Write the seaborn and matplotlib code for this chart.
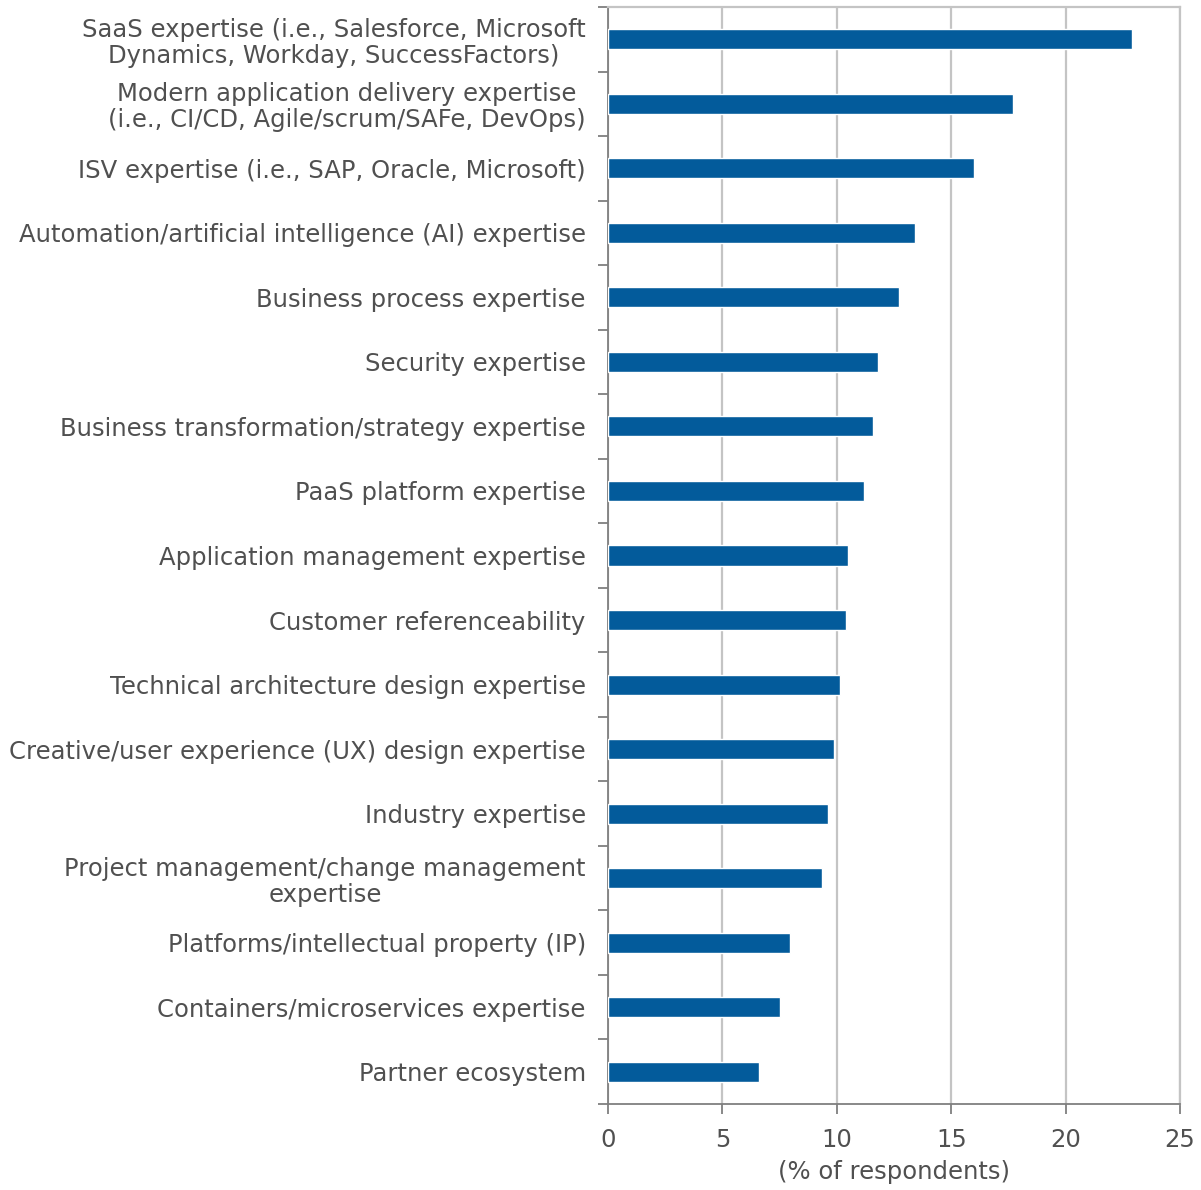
import matplotlib
matplotlib.use("Agg")
import matplotlib.pyplot as plt
from matplotlib.ticker import FixedLocator
import seaborn as sns
import pandas as pd
import numpy as np

categories = [
    "SaaS expertise (i.e., Salesforce, Microsoft\nDynamics, Workday, SuccessFactors)",
    "Modern application delivery expertise\n(i.e., CI/CD, Agile/scrum/SAFe, DevOps)",
    "ISV expertise (i.e., SAP, Oracle, Microsoft)",
    "Automation/artificial intelligence (AI) expertise",
    "Business process expertise",
    "Security expertise",
    "Business transformation/strategy expertise",
    "PaaS platform expertise",
    "Application management expertise",
    "Customer referenceability",
    "Technical architecture design expertise",
    "Creative/user experience (UX) design expertise",
    "Industry expertise",
    "Project management/change management\nexpertise",
    "Platforms/intellectual property (IP)",
    "Containers/microservices expertise",
    "Partner ecosystem",
]
values = [22.9, 17.7, 16.0, 13.4, 12.7, 11.8, 11.6, 11.2, 10.5, 10.4,
          10.15, 9.87, 9.6, 9.36, 7.95, 7.5, 6.6]
x_ticks = [0, 5, 10, 15, 20, 25]
x_label = "(% of respondents)"

df = pd.DataFrame({"category": categories, "value": values})

sns.set_style("white")
plt.rcParams["font.family"] = ["DejaVu Sans"]

text_color = "#505050"
bar_color = "#035b9b"
grid_color = "#c4c4c4"
spine_color = "#7f7f7f"
label_size = 17.5

fig = plt.figure(figsize=(12.01, 11.90), dpi=100)
ax = fig.add_axes([608 / 1201, 1 - 1104 / 1190, (1180 - 608) / 1201, (1104 - 7) / 1190])

sns.barplot(data=df, x="value", y="category", orient="h", color=bar_color,
            saturation=1, width=0.31, edgecolor="white", linewidth=1.0,
            ax=ax, zorder=3)

ax.set_xlim(0, 25)
ax.set_ylim(len(categories) - 0.5, -0.5)
ax.set_xticks(x_ticks)
ax.xaxis.grid(True, color=grid_color, linewidth=1.6, zorder=0)
ax.yaxis.grid(False)
ax.set_axisbelow(True)

# Category labels sit at bar centres; tick marks sit on the boundaries
ax.yaxis.set_minor_locator(FixedLocator(np.arange(-0.5, len(categories), 1.0)))
ax.tick_params(axis="y", which="major", length=0, pad=16, labelsize=label_size,
               labelcolor=text_color)
ax.tick_params(axis="y", which="minor", length=7, width=1.3, color=spine_color,
               direction="out", left=True)
ax.tick_params(axis="x", which="major", length=7, width=1.3, color=spine_color,
               direction="out", bottom=True, pad=10, labelsize=label_size,
               labelcolor=text_color)
for lbl in ax.get_yticklabels():
    lbl.set_multialignment("center")
    lbl.set_linespacing(1.1)

ax.set_ylabel("")
ax.set_xlabel(x_label, fontsize=label_size, color=text_color, labelpad=6)

for side in ("left", "bottom"):
    ax.spines[side].set_color(spine_color)
    ax.spines[side].set_linewidth(1.3)
for side in ("top", "right"):
    ax.spines[side].set_visible(True)
    ax.spines[side].set_color(grid_color)
    ax.spines[side].set_linewidth(1.6)

fig.savefig("out.png", dpi=100, facecolor="white")
